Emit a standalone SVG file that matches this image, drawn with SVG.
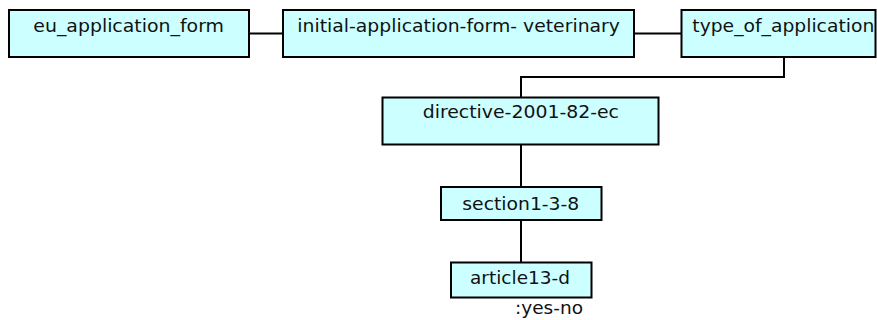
<svg xmlns="http://www.w3.org/2000/svg" width="877" height="320" viewBox="0 0 877 320">
<style>
.box{fill:#ccffff;stroke:#000;stroke-width:2}
.lbl{font-family:"DejaVu Sans",Verdana,sans-serif;font-size:17px;fill:#111}
.conn{fill:none;stroke:#000;stroke-width:2}
</style>
<rect width="877" height="320" fill="#fff"/>
<g id="connectors">
<line class="conn" x1="250" y1="33.5" x2="283" y2="33.5"/>
<line class="conn" x1="634" y1="33.5" x2="681" y2="33.5"/>
<polyline class="conn" points="784,57 784,77 521,77 521,97"/>
<line class="conn" x1="521" y1="145" x2="521" y2="187"/>
<line class="conn" x1="521" y1="220" x2="521" y2="262"/>
</g>
<g id="eu_application_form">
<rect class="box" x="9" y="10" width="240" height="47"/>
<text class="lbl" x="33.3" y="32.3" textLength="190.7" lengthAdjust="spacingAndGlyphs">eu_application_form</text>
</g>
<g id="initial-application-form-veterinary">
<rect class="box" x="283" y="10" width="351" height="47"/>
<text class="lbl" x="297.3" y="32.3" textLength="322.7" lengthAdjust="spacingAndGlyphs">initial-application-form- veterinary</text>
</g>
<g id="type_of_application">
<rect class="box" x="681.5" y="10" width="194" height="47"/>
<text class="lbl" x="692.3" y="32.3" textLength="182" lengthAdjust="spacingAndGlyphs">type_of_application</text>
</g>
<g id="directive-2001-82-ec">
<rect class="box" x="382.5" y="97.5" width="276" height="47"/>
<text class="lbl" x="422.7" y="118.3" textLength="196.3" lengthAdjust="spacingAndGlyphs">directive-2001-82-ec</text>
</g>
<g id="section1-3-8">
<rect class="box" x="441" y="187" width="160.5" height="33"/>
<text class="lbl" x="462.3" y="209.7" textLength="117" lengthAdjust="spacingAndGlyphs">section1-3-8</text>
</g>
<g id="article13-d">
<rect class="box" x="451" y="262.5" width="140.5" height="35"/>
<text class="lbl" x="470" y="283.7" textLength="100" lengthAdjust="spacingAndGlyphs">article13-d</text>
<text class="lbl" x="515" y="313.7" textLength="68" lengthAdjust="spacingAndGlyphs">:yes-no</text>
</g>
</svg>
